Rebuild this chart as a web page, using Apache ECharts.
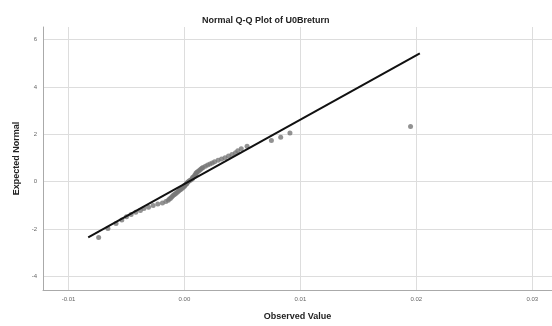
<!DOCTYPE html>
<html>
<head>
<meta charset="utf-8">
<script src="https://cdn.jsdelivr.net/npm/echarts@6/dist/echarts.min.js"></script>
<style>
  html, body { margin: 0; padding: 0; background: #fff; }
  #chart { width: 552px; height: 326px; }
</style>
</head>
<body>
<div id="chart"></div>
<script>
// Observed daily returns (sorted) and their expected normal scores
const observed = [
  -0.0074, -0.0066, -0.0059, -0.0054, -0.0050, -0.0046, -0.0042, -0.0038,
  -0.0035, -0.0031, -0.0027, -0.0023, -0.0019, -0.0016, -0.0014, -0.0013,
  -0.0012, -0.0011, -0.0010, -0.0009, -0.0008, -0.0007, -0.0006, -0.0005,
  -0.0004, -0.0003, -0.0002, -0.0001, 0.0000, 0.0000, 0.0001, 0.0002,
  0.0002, 0.0003, 0.0004, 0.0005, 0.0006, 0.0007, 0.0007, 0.0008,
  0.0009, 0.0009, 0.0010, 0.0010, 0.0011, 0.0012, 0.0013, 0.0014,
  0.0015, 0.0016, 0.0018, 0.0020, 0.0022, 0.0024, 0.0026, 0.0029,
  0.0032, 0.0035, 0.0038, 0.0041, 0.0044, 0.0046, 0.0049, 0.0054,
  0.0075, 0.0083, 0.0091, 0.0195
];
const expected = [
  -2.36, -1.98, -1.77, -1.62, -1.49, -1.39, -1.30, -1.22,
  -1.14, -1.08, -1.01, -0.95, -0.90, -0.84, -0.79, -0.74,
  -0.70, -0.65, -0.60, -0.56, -0.52, -0.48, -0.44, -0.40,
  -0.36, -0.32, -0.28, -0.24, -0.20, -0.17, -0.13, -0.09,
  -0.06, -0.02, 0.02, 0.06, 0.09, 0.13, 0.17, 0.20,
  0.24, 0.28, 0.32, 0.36, 0.40, 0.44, 0.48, 0.52,
  0.56, 0.60, 0.65, 0.70, 0.74, 0.79, 0.84, 0.90,
  0.95, 1.01, 1.08, 1.14, 1.22, 1.30, 1.39, 1.49,
  1.74, 1.87, 2.05, 2.33
];
// Reference normal line endpoints
const refLineX = [-0.0083, 0.0203];
const refLineY = [-2.36, 5.42];
// Tick positions
const xTicks = [-0.01, 0.00, 0.01, 0.02, 0.03];
const yTicks = [-4, -2, 0, 2, 4, 6];

const points = observed.map((x, i) => [x, expected[i]]);
const refLine = refLineX.map((x, i) => [x, refLineY[i]]);

const chart = echarts.init(document.getElementById('chart'), null, { renderer: 'canvas' });
const font = 'Liberation Sans, Arial, sans-serif';

chart.setOption({
  animation: false,
  backgroundColor: '#ffffff',
  title: {
    text: 'Normal Q-Q Plot of U0Breturn',
    left: 197,
    top: 11,
    textStyle: { fontFamily: font, fontSize: 9, fontWeight: 'bold', color: '#222' }
  },
  grid: { left: 43, right: 0, top: 27, bottom: 35, containLabel: false },
  xAxis: {
    type: 'value',
    min: -0.0122,
    max: 0.0317,
    name: 'Observed Value',
    nameLocation: 'middle',
    nameGap: 22,
    nameTextStyle: { fontFamily: font, fontSize: 9, fontWeight: 'bold', color: '#222' },
    axisLine: { onZero: false, lineStyle: { color: '#aaa', width: 1 } },
    axisTick: { show: false, customValues: xTicks },
    axisLabel: {
      customValues: xTicks,
      fontFamily: font, fontSize: 6, color: '#666', margin: 6,
      formatter: v => v.toFixed(2)
    },
    splitLine: { show: true, lineStyle: { color: '#ddd', width: 1 } }
  },
  yAxis: {
    type: 'value',
    min: -4.58,
    max: 6.53,
    name: 'Expected Normal',
    nameLocation: 'middle',
    nameGap: 22,
    nameRotate: 90,
    nameTextStyle: { fontFamily: font, fontSize: 9, fontWeight: 'bold', color: '#222' },
    axisLine: { show: true, onZero: false, lineStyle: { color: '#aaa', width: 1 } },
    axisTick: { show: false, customValues: yTicks },
    axisLabel: {
      customValues: yTicks,
      fontFamily: font, fontSize: 6, color: '#666', margin: 6
    },
    splitLine: { show: true, lineStyle: { color: '#ddd', width: 1 } }
  },
  series: [
    {
      type: 'scatter',
      data: points,
      symbol: 'circle',
      symbolSize: 5,
      itemStyle: { color: '#777' },
      z: 2
    },
    {
      type: 'line',
      data: refLine,
      symbol: 'none',
      lineStyle: { color: '#111', width: 2 },
      z: 3
    }
  ]
});
</script>
</body>
</html>
